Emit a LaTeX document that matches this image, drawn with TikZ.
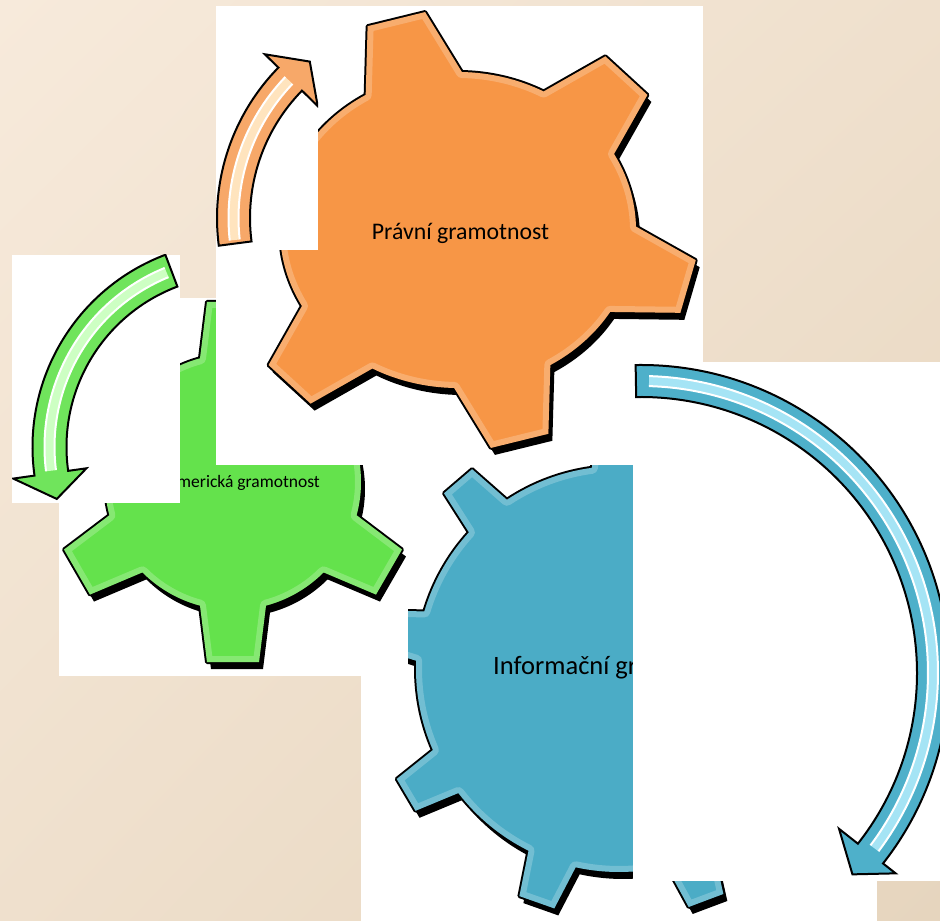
\documentclass[tikz,border=0pt]{standalone}
\usepackage{fontspec}
\setmainfont{Carlito}
\usetikzlibrary{shadings}
\definecolor{bgA}{RGB}{247,234,219}
\definecolor{bgM}{RGB}{239,224,205}
\definecolor{bgB}{RGB}{230,213,190}
\definecolor{gOrange}{RGB}{247,150,70}
\definecolor{gGreen}{RGB}{100,226,76}
\definecolor{gBlue}{RGB}{75,172,198}
\definecolor{aOrange}{RGB}{247,168,105}
\definecolor{aOrangeL}{RGB}{255,228,190}
\definecolor{aGreen}{RGB}{112,228,92}
\definecolor{aGreenL}{RGB}{205,255,195}
\definecolor{aBlue}{RGB}{78,176,202}
\definecolor{aBlueL}{RGB}{165,228,245}

% gear parameters: cx cy rw rh toothheight n phase tiphalfwidth basehalfwidth
\newcommand\setgear[9]{%
  \def\gcx{#1}\def\gcy{#2}\def\grw{#3}\def\grh{#4}\def\gth{#5}\def\gn{#6}\def\gph{#7}%
  \pgfmathsetmacro\gst{360/#6}%
  \pgfmathsetmacro\gab{asin(#9/((#3+#4)/2))}%
  \pgfmathsetmacro\gat{asin(#8/((#3+#4)/2+#5))}%
}
\def\gearpath{({\gcx+\grw*cos(\gph+\gab)},{\gcy+\grh*sin(\gph+\gab)})
  \foreach \k in {1,...,\gn} {
    arc[start angle={\gph+(\k-1)*\gst+\gab}, end angle={\gph+\k*\gst-\gab}, x radius=\grw, y radius=\grh]
    -- ({\gcx+(\grw+\gth)*cos(\gph+\k*\gst-\gat)},{\gcy+(\grh+\gth)*sin(\gph+\k*\gst-\gat)})
    -- ({\gcx+(\grw+\gth)*cos(\gph+\k*\gst+\gat)},{\gcy+(\grh+\gth)*sin(\gph+\k*\gst+\gat)})
    -- ({\gcx+\grw*cos(\gph+\k*\gst+\gab)},{\gcy+\grh*sin(\gph+\k*\gst+\gab)})
  } -- cycle}
\newcommand\drawgear[1]{%
  \fill[black,shift={(4,-7)}] \gearpath;
  \draw[black,line width=4,line join=round] \gearpath;
  \fill[#1] \gearpath;
  \begin{scope}\clip \gearpath; \draw[white,opacity=0.22,line width=12,line join=round] \gearpath; \end{scope}
}

% arrow parameters: cx cy rin rout tailangle headbaseangle barbin barbout tipangle
\newcommand\setarrow[9]{%
  \def\acx{#1}\def\acy{#2}\def\ari{#3}\def\aro{#4}\def\ata{#5}\def\ahb{#6}\def\abi{#7}\def\abo{#8}\def\atp{#9}%
  \pgfmathsetmacro\atr{(#3+#4)/2}%
  \pgfmathsetmacro\amid{(#3+#4)/2}%
  \pgfmathsetmacro\amidA{\amid-5}%
  \pgfmathsetmacro\amidB{\amid+5}%
  \pgfmathsetmacro\aS{#5+0.02*(#6-#5)}%
  \pgfmathsetmacro\aE{#6-0.01*(#6-#5)}%
}
\def\arrowpath{(\ata:\aro) arc[start angle=\ata, end angle=\ahb, radius=\aro] -- (\ahb:\abo) -- (\atp:\atr) -- (\ahb:\abi) -- (\ahb:\ari) arc[start angle=\ahb, end angle=\ata, radius=\ari] -- cycle}
\newcommand\drawarrow[2]{%
  \begin{scope}[shift={(\acx,\acy)}]
    \fill[#1,draw=black,line width=2,line join=miter] \arrowpath;
    \draw[#2,line width=9] (\aS:\amid) arc[start angle=\aS,end angle=\aE,radius=\amid];
    \draw[white,line width=2] (\aS:\amidA) arc[start angle=\aS,end angle=\aE,radius=\amidA];
    \draw[white,line width=2] (\aS:\amidB) arc[start angle=\aS,end angle=\aE,radius=\amidB];
  \end{scope}%
}
\tikzset{gtext/.style={inner sep=0pt,text=black}}

\begin{document}
\begin{tikzpicture}[x=1pt,y=1pt]
\useasboundingbox (0,0) rectangle (940,921);
\shade[upper left=bgA,upper right=bgM,lower left=bgM,lower right=bgB] (0,0) rectangle (940,921);

% blue gear tile
\begin{scope}
  \fill[white] (361,0) rectangle (877,481);
  \clip (361,0) rectangle (877,481);
  \setgear{619}{252}{203}{203}{45}{9}{130.6}{18.5}{25}
  \drawgear{gBlue}
  \node[gtext,font=\fontsize{26.5}{30}\selectfont,anchor=base west] (tBlue) at (493,246) {Informační gramotnost};
\end{scope}

% green gear tile
\begin{scope}
  \fill[white] (59,245) rectangle (408,623);
  \clip (59,245) rectangle (408,623);
  \setgear{233}{439}{128}{128}{54}{6}{90}{26}{33}
  \drawgear{gGreen}
  \node[gtext,font=\fontsize{17.5}{21}\selectfont,anchor=base east] (tGreen) at (320,433) {Numerická gramotnost};
\end{scope}

% orange gear tile
\begin{scope}
  \fill[white] (216,456) rectangle (703,915);
  \clip (216,456) rectangle (703,915);
  \setgear{458}{691}{178}{158}{62}{6}{105}{28.5}{47}
  \drawgear{gOrange}
  \node[gtext,font=\fontsize{23.8}{28}\selectfont,anchor=base] (tOrange) at (460.5,681) {Právní gramotnost};
\end{scope}

% orange arrow tile
\begin{scope}
  \fill[white] (216,671) rectangle (318,915);
  \clip (216,671) rectangle (318,915);
  \setarrow{432}{703}{182}{215}{187.4}{135.6}{160}{234}{128}
  \drawarrow{aOrange}{aOrangeL}
\end{scope}

% green arrow tile
\begin{scope}
  \fill[white] (12,418) rectangle (180,666);
  \clip (12,418) rectangle (180,666);
  \setarrow{238}{474}{171.5}{205.5}{110.7}{188}{153}{227}{196}
  \drawarrow{aGreen}{aGreenL}
\end{scope}

% blue arrow tile
\begin{scope}
  \fill[white] (633,40) rectangle (940,559);
  \clip (633,40) rectangle (940,559);
  \setarrow{641}{248}{276}{308}{91}{-38.2}{252}{324}{-43.6}
  \drawarrow{aBlue}{aBlueL}
\end{scope}
\end{tikzpicture}
\end{document}
